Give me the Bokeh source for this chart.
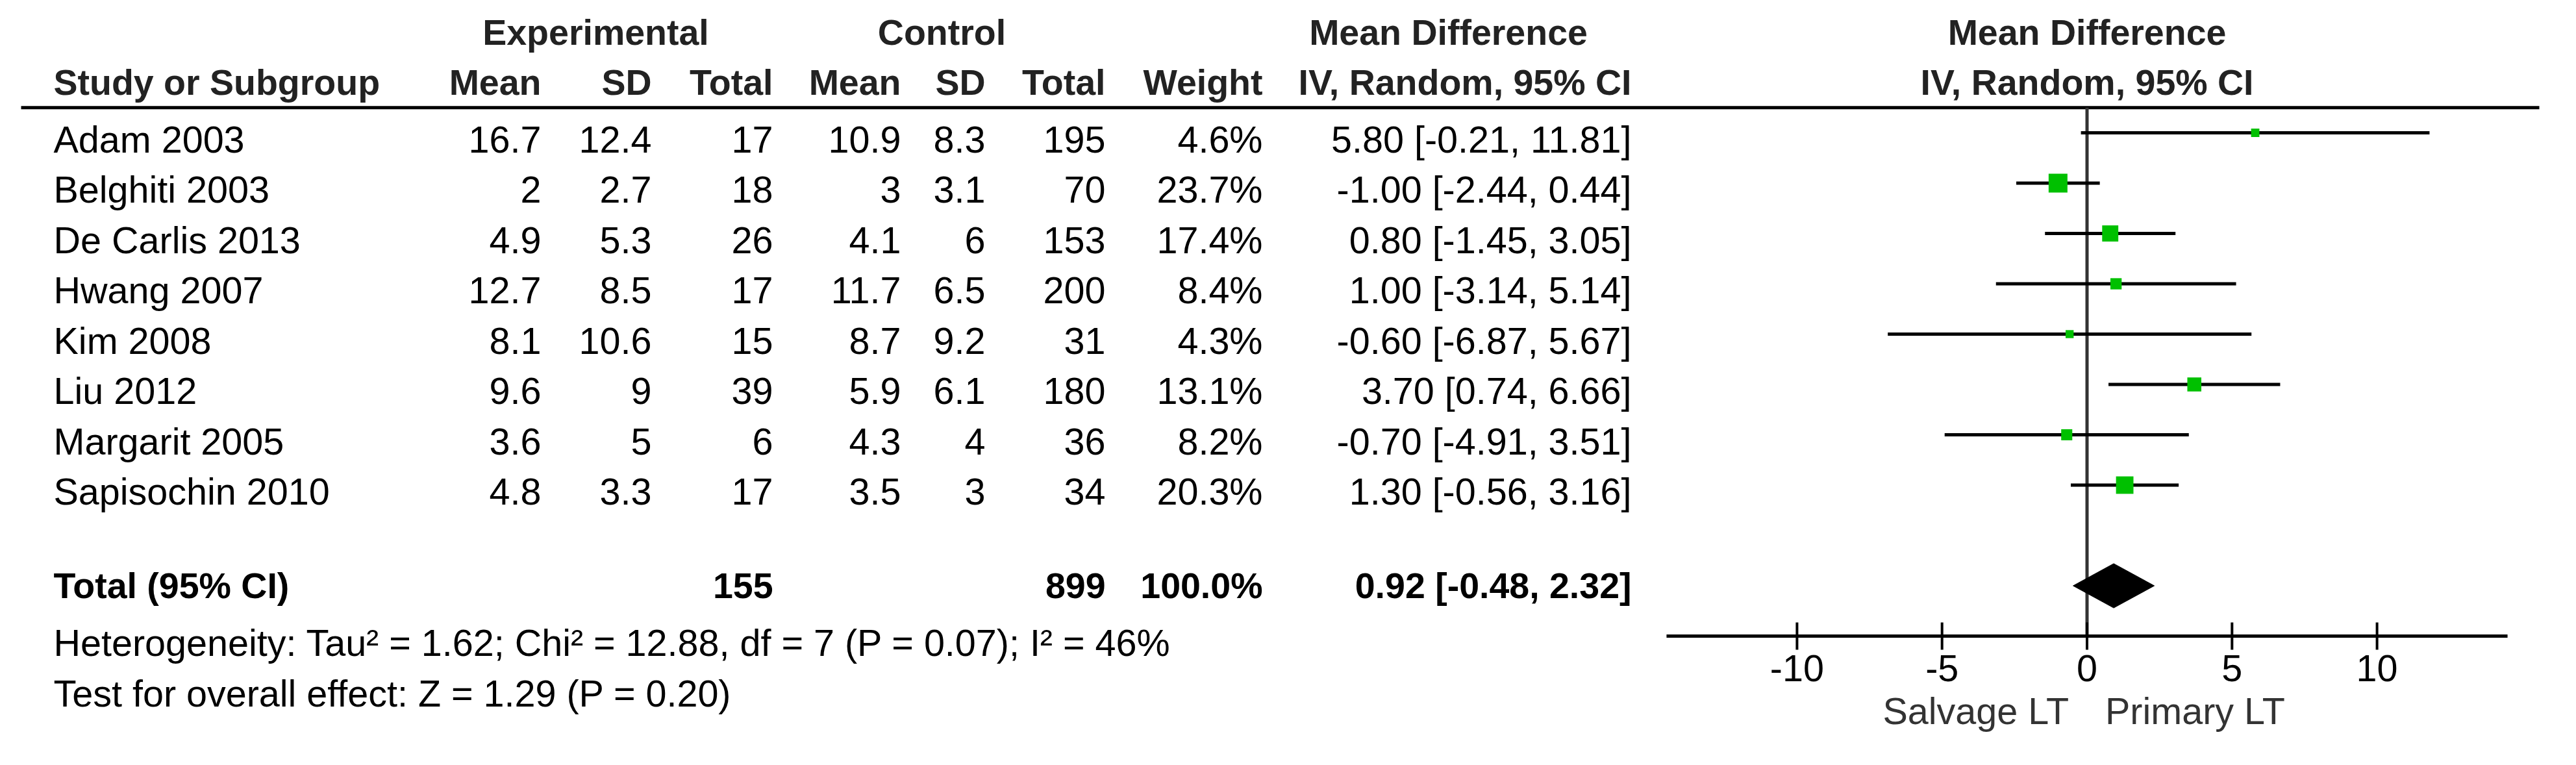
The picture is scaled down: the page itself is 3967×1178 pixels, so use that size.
from bokeh.plotting import figure
from bokeh.models import Range1d
from bokeh.embed import file_html
from bokeh.resources import INLINE
from bokeh.core.properties import value
import math

# ---------------- data ----------------
studies = ["Adam 2003", "Belghiti 2003", "De Carlis 2013", "Hwang 2007",
           "Kim 2008", "Liu 2012", "Margarit 2005", "Sapisochin 2010"]
exp_mean = [16.7, 2, 4.9, 12.7, 8.1, 9.6, 3.6, 4.8]
exp_sd = [12.4, 2.7, 5.3, 8.5, 10.6, 9, 5, 3.3]
exp_total = [17, 18, 26, 17, 15, 39, 6, 17]
ctl_mean = [10.9, 3, 4.1, 11.7, 8.7, 5.9, 4.3, 3.5]
ctl_sd = [8.3, 3.1, 6, 6.5, 9.2, 6.1, 4, 3]
ctl_total = [195, 70, 153, 200, 31, 180, 36, 34]
weight = [4.6, 23.7, 17.4, 8.4, 4.3, 13.1, 8.2, 20.3]
md = [5.80, -1.00, 0.80, 1.00, -0.60, 3.70, -0.70, 1.30]
ci_low = [-0.21, -2.44, -1.45, -3.14, -6.87, 0.74, -4.91, -0.56]
ci_high = [11.81, 0.44, 3.05, 5.14, 5.67, 6.66, 3.51, 3.16]

total_label = "Total (95% CI)"
total_exp = 155
total_ctl = 899
total_weight = 100.0
total_md = 0.92
total_low = -0.48
total_high = 2.32

heterogeneity = "Heterogeneity: Tau\u00b2 = 1.62; Chi\u00b2 = 12.88, df = 7 (P = 0.07); I\u00b2 = 46%"
overall = "Test for overall effect: Z = 1.29 (P = 0.20)"

x_ticks = [-10, -5, 0, 5, 10]
axis_bounds = [-14.5, 14.5]
favours_left = "Salvage LT"
favours_right = "Primary LT"

# ---------------- layout constants (image pixels) ----------------
FONT = "Liberation Sans"
FS = "57.5px"
FSB = "55.5px"
W, H = 3951, 1162
ROW0_PX, ROW_PX = 212.0, 77.5
TOP_PX, BOT_PX = 8.0, 1170.0
LEFT_PX, RIGHT_PX = 8.0, 3959.0
AXIS_PX = 987.0
ZERO_PX, UNIT_PX = 3221.5, 44.66


def r_of(px):
    return (px - ROW0_PX) / ROW_PX


def md_of(px):
    return (px - ZERO_PX) / UNIT_PX


n = len(studies)
rows = list(range(n))
text_rows = [r + 0.13 for r in rows]
total_row = n + 1
het_row = total_row + 1
test_row = het_row + 1

p = figure(width=W, height=H, output_backend="svg", toolbar_location=None,
           x_range=Range1d(LEFT_PX, RIGHT_PX),
           y_range=Range1d(r_of(BOT_PX), r_of(TOP_PX)),
           x_axis_location=None, y_axis_location=None, min_border=0)
p.extra_x_ranges = {"md": Range1d(md_of(LEFT_PX), md_of(RIGHT_PX))}
p.grid.visible = False
p.outline_line_color = None


def txt(x, y, t, align="left", bold=False, color="black", rng="default", xoff=0):
    p.text(x=x, y=y, text=t, text_align=align, text_baseline="middle",
           text_font=value(FONT), text_font_size=FSB if bold else FS,
           text_font_style="bold" if bold else "normal", text_color=color,
           x_range_name=rng, x_offset=xoff)


COL = dict(name=90, em=841, esd=1011, et=1198, cm=1395, csd=1525, ct=1710,
           w=1952, ci=2520)
HC = "#222222"

# ---- headers ----
txt([925], [-2], ["Experimental"], "center", True, HC)
txt([1458], [-2], ["Control"], "center", True, HC)
txt([2238], [-2], ["Mean Difference"], "center", True, HC)
txt([COL["name"]], [-1], ["Study or Subgroup"], "left", True, HC)
hdr = [("em", "Mean"), ("esd", "SD"), ("et", "Total"), ("cm", "Mean"),
       ("csd", "SD"), ("ct", "Total"), ("w", "Weight"), ("ci", "IV, Random, 95% CI")]
txt([COL[k] for k, _ in hdr], [-1] * len(hdr), [s for _, s in hdr], "right", True, HC)
txt([0], [-2], ["Mean Difference"], "center", True, HC, "md")
txt([0], [-1], ["IV, Random, 95% CI"], "center", True, HC, "md")

p.segment(x0=[40], x1=[3918], y0=[-0.5], y1=[-0.5], line_color="black", line_width=5)

# ---- study rows ----
txt(COL["name"], text_rows, studies)
txt(COL["em"], text_rows, [f"{v:g}" for v in exp_mean], "right")
txt(COL["esd"], text_rows, [f"{v:g}" for v in exp_sd], "right")
txt(COL["et"], text_rows, [f"{v:g}" for v in exp_total], "right")
txt(COL["cm"], text_rows, [f"{v:g}" for v in ctl_mean], "right")
txt(COL["csd"], text_rows, [f"{v:g}" for v in ctl_sd], "right")
txt(COL["ct"], text_rows, [f"{v:g}" for v in ctl_total], "right")
txt(COL["w"], text_rows, [f"{v:.1f}%" for v in weight], "right")
txt(COL["ci"], text_rows,
    [f"{m:.2f} [{lo:.2f}, {hi:.2f}]" for m, lo, hi in zip(md, ci_low, ci_high)], "right")

# ---- total row ----
txt([COL["name"]], [total_row], [total_label], "left", True)
txt([COL["et"], COL["ct"], COL["w"], COL["ci"]], [total_row] * 4,
    [f"{total_exp}", f"{total_ctl}", f"{total_weight:.1f}%",
     f"{total_md:.2f} [{total_low:.2f}, {total_high:.2f}]"], "right", True)

txt([COL["name"]], [het_row + 0.14], [heterogeneity])
txt([COL["name"]], [test_row + 0.14], [overall])

# ---- forest plot ----
axis_row = r_of(AXIS_PX)
p.segment(x0=[0], x1=[0], y0=[-0.5], y1=[axis_row], line_color="#333333",
          line_width=5, x_range_name="md")
p.segment(x0=ci_low, x1=ci_high, y0=rows, y1=rows, line_color="black",
          line_width=5, x_range_name="md")
sizes = [5.96 * math.sqrt(w) for w in weight]
p.scatter(x=md, y=rows, size=sizes, marker="square", fill_color="#00c000",
          line_color=None, x_range_name="md")

hh = 0.44
p.patch(x=[total_low, total_md, total_high, total_md],
        y=[total_row, total_row - hh, total_row, total_row + hh],
        fill_color="black", line_color="black", line_width=1, x_range_name="md")

# ---- axis (drawn on the md scale) ----
tick_half = 21.0 / ROW_PX
p.segment(x0=[axis_bounds[0]], x1=[axis_bounds[1]], y0=[axis_row], y1=[axis_row],
          line_color="black", line_width=5, x_range_name="md")
p.segment(x0=x_ticks, x1=x_ticks, y0=[axis_row - tick_half] * len(x_ticks),
          y1=[axis_row + tick_half] * len(x_ticks), line_color="black",
          line_width=4, x_range_name="md")
txt(x_ticks, [r_of(1036)] * len(x_ticks), [str(t) for t in x_ticks], "center",
    False, "black", "md")
txt([0], [r_of(1102)], [favours_left], "right", False, "#333333", "md", -28)
txt([0], [r_of(1102)], [favours_right], "left", False, "#333333", "md", 28)

open("out.html", "w").write(file_html(p, INLINE))
